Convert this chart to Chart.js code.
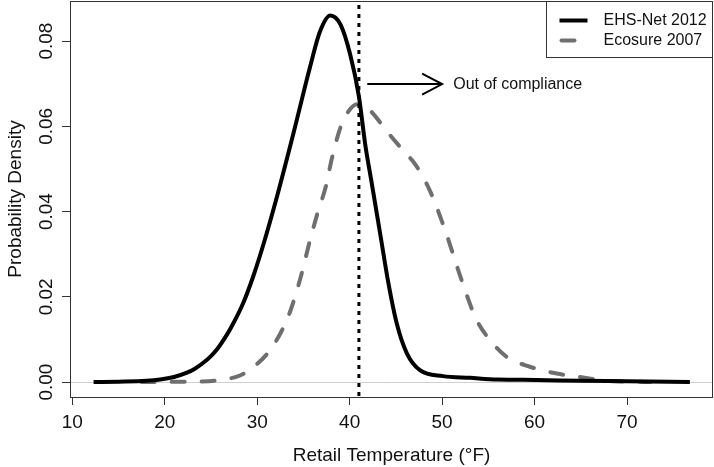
<!DOCTYPE html>
<html>
<head>
<meta charset="utf-8">
<script src="https://cdn.jsdelivr.net/npm/chart.js@4"></script>
<style>
  body { margin: 0; background: #fff; }
  #wrap { width: 714px; height: 467px; }
</style>
</head>
<body>
<div id="wrap"><canvas id="densityChart"></canvas></div>
<script>
// EHS-Net 2012 density
const ehsTemps = [12.3, 15, 18, 19.5, 21, 22.4, 23.3, 24.2, 25.0, 25.7, 26.4, 27.1, 28.5, 29.6, 30.7, 32.0, 33.9, 35.7, 36.8, 37.9, 39.0, 40.05, 41.0, 41.7, 42.4, 43.3, 44.2, 45.1, 46.2, 47.6, 50.1, 53.0, 56.0, 60.2, 65, 70, 76.8];
const ehsDensity = [0, 0.0001, 0.0003, 0.0006, 0.0012, 0.0022, 0.0032, 0.0046, 0.0061, 0.0078, 0.0100, 0.0125, 0.0186, 0.0250, 0.0325, 0.0424, 0.0582, 0.0738, 0.0823, 0.0860, 0.0839, 0.0769, 0.0670, 0.0555, 0.0465, 0.0348, 0.0231, 0.0137, 0.0067, 0.0028, 0.0014, 0.0010, 0.0006, 0.0005, 0.0003, 0.0002, 0];

// Ecosure 2007 density
const ecoTemps = [17.5, 20, 23.1, 26.0, 28.2, 29.6, 31.1, 32.5, 33.6, 34.7, 35.7, 36.6, 37.4, 38.1, 39.0, 39.9, 40.8, 41.7, 42.6, 44.0, 45.8, 46.8, 47.6, 48.3, 49.0, 50.5, 51.6, 52.7, 53.7, 55.2, 57.0, 59.5, 62.4, 64.9, 67.4, 70.6, 72.5];
const ecoDensity = [0, 0.00005, 0.0001, 0.0005, 0.0016, 0.0036, 0.0067, 0.0114, 0.0168, 0.0246, 0.0332, 0.0402, 0.0457, 0.0527, 0.0597, 0.0636, 0.0652, 0.0646, 0.0628, 0.0589, 0.0543, 0.0519, 0.0494, 0.0466, 0.0433, 0.0345, 0.0272, 0.0202, 0.0147, 0.0098, 0.0059, 0.0036, 0.0020, 0.0012, 0.0004, 0.0001, 0];

const xTicks = [10, 20, 30, 40, 50, 60, 70];
const yTicks = [0, 0.02, 0.04, 0.06, 0.08];
const seriesNames = ['EHS-Net 2012', 'Ecosure 2007'];

const complianceTemp = 41;
const arrowFrom = 41.9, arrowTo = 50.0, arrowLevel = 0.0699;
const noteText = 'Out of compliance';
const noteX = 51.2;

const FONT = '"Liberation Sans", Arial, sans-serif';
Chart.defaults.font.family = FONT;

function toPoints(xs, ys) {
    return xs.map((x, i) => ({ x: x, y: ys[i] }));
}

// zero line, cut-off line, arrow, y labels, frame and legend
const extras = {
    id: 'extras',
    beforeDatasetsDraw(chart) {
        const { ctx, chartArea: a, scales: { y } } = chart;
        const y0 = Math.round(y.getPixelForValue(0)) + 0.5;
        ctx.save();
        ctx.strokeStyle = '#cfcfcf';
        ctx.lineWidth = 1;
        ctx.beginPath();
        ctx.moveTo(a.left, y0);
        ctx.lineTo(a.right, y0);
        ctx.stroke();
        ctx.restore();
    },
    afterDraw(chart) {
        const { ctx, chartArea: a, scales: { x, y } } = chart;
        ctx.save();

        // dotted compliance line
        const xc = x.getPixelForValue(complianceTemp);
        ctx.strokeStyle = '#000';
        ctx.lineWidth = 3;
        ctx.setLineDash([4, 5]);
        ctx.beginPath();
        ctx.moveTo(xc, a.top + 4);
        ctx.lineTo(xc, a.bottom);
        ctx.stroke();
        ctx.setLineDash([]);

        // arrow
        const ax1 = x.getPixelForValue(arrowFrom);
        const ax2 = x.getPixelForValue(arrowTo);
        const ay = y.getPixelForValue(arrowLevel);
        ctx.lineWidth = 2;
        ctx.beginPath();
        ctx.moveTo(ax1, ay);
        ctx.lineTo(ax2, ay);
        ctx.moveTo(ax2 - 20, ay - 10.5);
        ctx.lineTo(ax2, ay);
        ctx.lineTo(ax2 - 20, ay + 10.5);
        ctx.stroke();

        ctx.fillStyle = '#111';
        ctx.font = '16px ' + FONT;
        ctx.textAlign = 'left';
        ctx.textBaseline = 'middle';
        ctx.fillText(noteText, x.getPixelForValue(noteX), ay);

        // y tick labels, parallel to the axis
        ctx.font = '19px ' + FONT;
        ctx.textAlign = 'center';
        yTicks.forEach(v => {
            ctx.save();
            ctx.translate(47, y.getPixelForValue(v));
            ctx.rotate(-Math.PI / 2);
            ctx.fillText(v.toFixed(2), 0, 0);
            ctx.restore();
        });

        // frame
        ctx.strokeStyle = '#333';
        ctx.lineWidth = 1;
        ctx.strokeRect(Math.round(a.left) + 0.5, Math.round(a.top) + 0.5,
            Math.round(a.right - a.left) - 1, Math.round(a.bottom - a.top));

        // legend
        const bw = 166, bh = 56;
        const bx = Math.round(a.right) - bw - 0.5, by = Math.round(a.top) + 0.5;
        ctx.fillStyle = '#fff';
        ctx.fillRect(bx, by, bw, bh);
        ctx.strokeRect(bx, by, bw, bh);
        chart.data.datasets.forEach((ds, i) => {
            const ly = by + 19 + i * 20;
            ctx.strokeStyle = ds.borderColor;
            ctx.lineWidth = ds.borderWidth;
            ctx.lineCap = ds.borderCapStyle || 'butt';
            ctx.setLineDash(ds.borderDash || []);
            ctx.beginPath();
            ctx.moveTo(bx + 13 + (ds.borderDash ? 2 : 0), ly);
            ctx.lineTo(bx + 41, ly);
            ctx.stroke();
            ctx.setLineDash([]);
            ctx.fillStyle = '#111';
            ctx.font = '16px ' + FONT;
            ctx.textAlign = 'left';
            ctx.fillText(ds.label, bx + 57, ly);
        });
        ctx.restore();
    }
};

const ctx = document.getElementById('densityChart').getContext('2d');
const densityChart = new Chart(ctx, {
    type: 'line',
    data: {
        datasets: [{
            label: seriesNames[0],
            data: toPoints(ehsTemps, ehsDensity),
            borderColor: '#000000',
            borderWidth: 4,
            cubicInterpolationMode: 'monotone',
            pointRadius: 0,
            fill: false
        }, {
            label: seriesNames[1],
            data: toPoints(ecoTemps, ecoDensity),
            borderColor: '#6f6f6f',
            borderWidth: 4,
            borderDash: [13, 17],
            borderCapStyle: 'round',
            cubicInterpolationMode: 'monotone',
            pointRadius: 0,
            fill: false
        }]
    },
    options: {
        responsive: true,
        maintainAspectRatio: false,
        animation: false,
        layout: { padding: { top: 1, right: 1, left: 0, bottom: 0 } },
        plugins: {
            legend: { display: false },
            tooltip: { enabled: false }
        },
        scales: {
            x: {
                type: 'linear',
                min: 9.75,
                max: 79.3,
                afterBuildTicks: s => { s.ticks = xTicks.map(v => ({ value: v })); },
                afterFit: s => { s.height = 70; },
                ticks: {
                    color: '#111',
                    font: { size: 19 },
                    padding: 6,
                    maxRotation: 0,
                    autoSkip: false
                },
                grid: { drawOnChartArea: false, tickLength: 8, color: '#333' },
                border: { display: false },
                title: {
                    display: true,
                    text: 'Retail Temperature (°F)',
                    color: '#111',
                    font: { size: 19 },
                    padding: { top: 0, bottom: 0 }
                }
            },
            y: {
                min: -0.0035,
                max: 0.0894,
                afterBuildTicks: s => { s.ticks = yTicks.map(v => ({ value: v })); },
                afterFit: s => { s.width = 70; },
                ticks: { display: false },
                grid: { drawOnChartArea: false, tickLength: 8, color: '#333' },
                border: { display: false },
                title: {
                    display: true,
                    text: 'Probability Density',
                    color: '#111',
                    font: { size: 19 },
                    padding: { top: 4, bottom: 0 }
                }
            }
        }
    },
    plugins: [extras]
});
</script>
</body>
</html>
